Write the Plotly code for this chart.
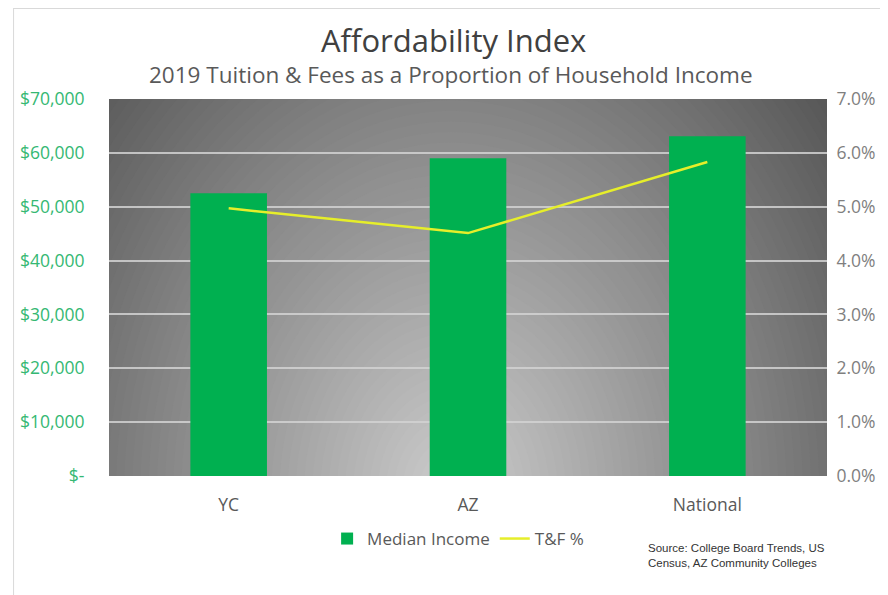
import plotly.graph_objects as go

categories = ["YC", "AZ", "National"]
median_income = [52500, 59000, 63100]
tf_pct = [0.0497, 0.0451, 0.0583]

left_tickvals = [0, 10000, 20000, 30000, 40000, 50000, 60000, 70000]
left_ticktext = ["$-", "$10,000", "$20,000", "$30,000", "$40,000", "$50,000", "$60,000", "$70,000"]
right_tickvals = [0, 0.01, 0.02, 0.03, 0.04, 0.05, 0.06, 0.07]
right_ticktext = ["0.0%", "1.0%", "2.0%", "3.0%", "4.0%", "5.0%", "6.0%", "7.0%"]

FONT = "Open Sans"
# page has an 8px body margin; figure sized/positioned to compensate
W, H = 880, 587
L, R, T, B = 99, 55, 91, 119
pw, ph = W - L - R, H - T - B   # 726 x 377


def px(sx):  # screen x -> paper x
    return (sx - 107) / pw


def py(sy):  # screen y -> paper y
    return (476 - sy) / ph


fig = go.Figure()
fig.add_trace(go.Bar(x=categories, y=median_income, name="Median Income",
                     marker=dict(color="#00B050", line=dict(width=0)), yaxis="y"))
fig.add_trace(go.Scatter(x=categories, y=tf_pct, name="T&F %", mode="lines",
                         line=dict(color="#E6EE2A", width=2.5), yaxis="y2"))

# radial gray gradient background (decoration) built from nested ellipses
shapes = []
N = 60
cx, cy = 0.93, -3000
rx_max, ry_max = 2.05, 118000
dark, light = 86, 205
for i in range(N):
    f = 1 - i / N
    c = int(round(light - (light - dark) * f))
    shapes.append(dict(type="circle", xref="x", yref="y", layer="below",
                       x0=cx - rx_max * f, x1=cx + rx_max * f,
                       y0=cy - ry_max * f, y1=cy + ry_max * f,
                       fillcolor=f"rgb({c},{c},{c})", line=dict(width=0)))
# outer chart border
shapes.append(dict(type="line", xref="paper", yref="paper", x0=px(10), x1=px(895),
                   y0=py(8.5), y1=py(8.5), line=dict(color="#d9d9d9", width=1)))
shapes.append(dict(type="line", xref="paper", yref="paper", x0=px(10.5), x1=px(10.5),
                   y0=py(8.5), y1=py(600), line=dict(color="#d9d9d9", width=1)))

fig.update_layout(
    width=W, height=H,
    margin=dict(l=L, r=R, t=T, b=B),
    paper_bgcolor="white",
    plot_bgcolor="rgb(86,86,86)",
    font=dict(family=FONT, color="#595959"),
    bargap=0.68,
    shapes=shapes,
    showlegend=True,
    legend=dict(orientation="h", x=px(460), xanchor="center", y=py(539), yanchor="middle",
                font=dict(size=17, color="#595959"), bgcolor="rgba(0,0,0,0)",
                itemwidth=30, tracegroupgap=0),
    xaxis=dict(type="category", range=[-0.5, 2.5], showgrid=False, zeroline=False,
               ticks="outside", ticklen=13, tickcolor="rgba(0,0,0,0)",
               tickfont=dict(size=17.5, color="#595959", family=FONT), showline=False),
    yaxis=dict(range=[0, 70000], tickvals=left_tickvals, ticktext=left_ticktext,
               showgrid=True, gridcolor="rgba(210,210,210,0.85)", gridwidth=1.5,
               zeroline=False, ticks="outside", ticklen=20, tickcolor="rgba(0,0,0,0)",
               tickfont=dict(size=17.5, color="#35B873", family=FONT)),
    yaxis2=dict(range=[0, 0.07], tickvals=right_tickvals, ticktext=right_ticktext,
                overlaying="y", side="right", showgrid=False, zeroline=False,
                ticks="outside", ticklen=5, tickcolor="rgba(0,0,0,0)",
                tickfont=dict(size=17.5, color="#7f7f7f", family=FONT)),
    annotations=[
        dict(text="Affordability Index", xref="paper", yref="paper",
             x=px(455), y=py(40), xanchor="center", yanchor="middle",
             showarrow=False, font=dict(size=31, color="#404040", family=FONT)),
        dict(text="2019 Tuition &amp; Fees as a Proportion of Household Income",
             xref="paper", yref="paper", x=px(453), y=py(74),
             xanchor="center", yanchor="middle", showarrow=False,
             font=dict(size=22.5, color="#595959", family=FONT)),
        dict(text="Source: College Board Trends, US<br>Census, AZ Community Colleges",
             xref="paper", yref="paper", x=px(650), y=py(555),
             xanchor="left", yanchor="middle", align="left", showarrow=False,
             font=dict(size=11.5, color="#333333", family="Liberation Sans")),
    ],
)

fig.write_html("out.html")
